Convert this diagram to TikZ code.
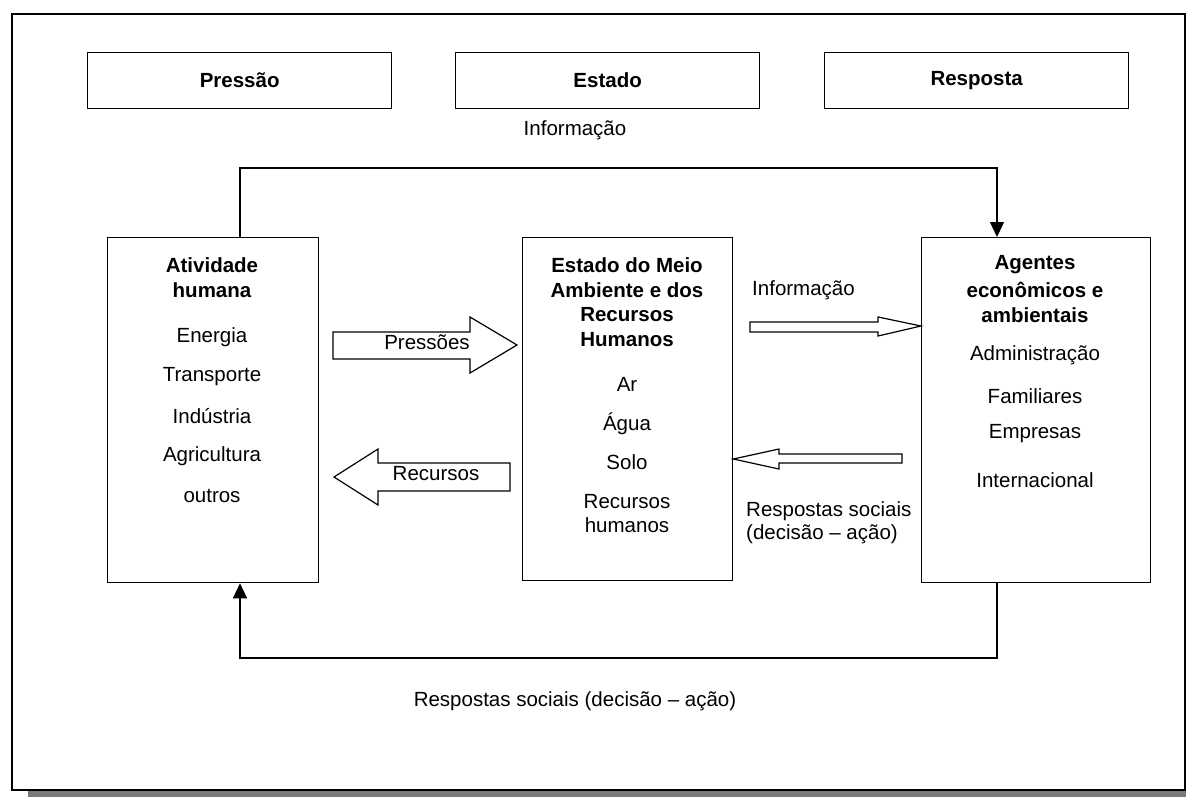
\documentclass[tikz,border=0pt]{standalone}
\usepackage{fontspec}
\setmainfont{Liberation Sans}
\usetikzlibrary{arrows.meta}
\begin{document}
\begin{tikzpicture}[x=1pt,y=-1pt,
  every node/.style={font=\fontsize{20.5}{24}\selectfont, inner sep=0pt},
  box/.style={draw, line width=1.3pt, anchor=north west},
  bold/.style={font=\fontsize{20.5}{24}\selectfont\bfseries},
  link/.style={line width=1.3pt, -{Triangle[width=14pt,length=15pt]}},
  blockarrow/.style={draw, line width=1.2pt, fill=white, line join=miter}
]
\useasboundingbox (0,0) rectangle (1186,796);
% drop shadow and outer frame
\fill[gray!95!black] (28,30) rectangle (1200,810);
\filldraw[fill=white, line width=1.5pt] (12,14) rectangle (1185,790);

% header boxes
\node[box, minimum width=304pt, minimum height=56pt] (hp) at (87,52) {};
\node[box, minimum width=304pt, minimum height=56pt] (he) at (455,52) {};
\node[box, minimum width=304pt, minimum height=56pt] (hr) at (824,52) {};
\node[bold] (hpt) at (hp.center) {Pressão};
\node[bold] (het) at (he.center) {Estado};
\node[bold] (hrt) at (hr.center) {Resposta};
\node (info) at (575,130) {Informação};

% main boxes
\node[box, minimum width=211pt, minimum height=345pt] (act) at (107,237) {};
\node[box, minimum width=210pt, minimum height=343pt] (env) at (522,237) {};
\node[box, minimum width=229pt, minimum height=345pt] (ag) at (921,237) {};

% human activity
\node[bold] (a1) at (212,265) {Atividade};
\node[bold] (a2) at (212,290) {humana};
\node (a3) at (212,337) {Energia};
\node (a4) at (212,377) {Transporte};
\node (a5) at (212,416) {Indústria};
\node (a6) at (212,456) {Agricultura};
\node (a7) at (212,496) {outros};

% state of the environment
\node[bold] (e1) at (627,265) {Estado do Meio};
\node[bold] (e2) at (627,290) {Ambiente e dos};
\node[bold] (e3) at (627,315) {Recursos};
\node[bold] (e4) at (627,340) {Humanos};
\node (e5) at (627,384) {Ar};
\node (e6) at (627,424) {Água};
\node (e7) at (627,462) {Solo};
\node (e8) at (627,502) {Recursos};
\node (e9) at (627,525) {humanos};

% economic and environmental agents
\node[bold] (g1) at (1035,265) {Agentes};
\node[bold] (g2) at (1035,290) {econômicos e};
\node[bold] (g3) at (1035,315) {ambientais};
\node (g4) at (1035,355) {Administração};
\node (g5) at (1035,396) {Familiares};
\node (g6) at (1035,434) {Empresas};
\node (g7) at (1035,480) {Internacional};

% feedback loops
\coordinate (tl) at (240,168);
\coordinate (tr) at (997,168);
\draw[link] (act.north -| tl) -- (tl) -- (tr) -- (ag.north -| tr);
\coordinate (bl) at (240,658);
\coordinate (br) at (997,658);
\draw[link] (ag.south -| br) -- (br) -- (bl) -- (act.south -| bl);
\node (resp) at (575,701) {Respostas sociais (decisão – ação)};

% block arrows between the boxes
\draw[blockarrow] (333,332) -- (470,332) -- (470,317) -- (517,345) -- (470,373) -- (470,359) -- (333,359) -- cycle;
\node (pr) at (427,342) {Pressões};
\draw[blockarrow] (510,463) -- (378,463) -- (378,449) -- (334,477) -- (378,505) -- (378,491) -- (510,491) -- cycle;
\node (rc) at (436,474) {Recursos};
\draw[blockarrow] (750,322) -- (878,322) -- (878,317) -- (ag.west |- 0,326) -- (878,336) -- (878,332) -- (750,332) -- cycle;
\node[anchor=west] (inf2) at (752,290) {Informação};
\draw[blockarrow] (902,454) -- (779,454) -- (779,449) -- (env.east |- 0,459) -- (779,469) -- (779,463) -- (902,463) -- cycle;
\node[anchor=west, align=left, font=\fontsize{20.5}{23}\selectfont] (rs) at (746,523) {Respostas sociais\\(decisão – ação)};
\end{tikzpicture}
\end{document}
